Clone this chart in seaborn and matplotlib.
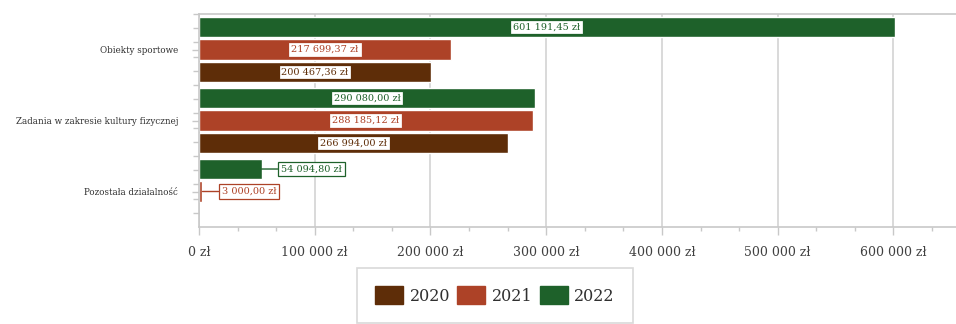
import numpy as np
import pandas as pd
import matplotlib
matplotlib.use("Agg")
import matplotlib.pyplot as plt
import seaborn as sns
from matplotlib.patches import Patch
from matplotlib.ticker import MultipleLocator, FuncFormatter

categories = ["Obiekty sportowe", "Zadania w zakresie kultury fizycznej", "Pozostała działalność"]
years = ["2020", "2021", "2022"]
values_2020 = [200467.36, 266994.00, np.nan]
values_2021 = [217699.37, 288185.12, 3000.00]
values_2022 = [601191.45, 290080.00, 54094.80]
colors = {"2020": "#5E2D08", "2021": "#AD4227", "2022": "#1E612A"}

rows = []
for yr, vals in zip(years, [values_2020, values_2021, values_2022]):
    for c, v in zip(categories, vals):
        rows.append({"Kategoria": c, "Rok": yr, "Kwota": v})
df = pd.DataFrame(rows)

sns.set_theme(style="white")
plt.rcParams["font.family"] = ["DejaVu Serif"]

fig = plt.figure(figsize=(9.56, 3.24), dpi=100)
ax = fig.add_axes([199/956, 1 - 227/324, 1 - 199/956, (227 - 14)/324])

hue_order = ["2022", "2021", "2020"]
sns.barplot(data=df, y="Kategoria", x="Kwota", hue="Rok", hue_order=hue_order,
            palette=colors, orient="h", width=0.95, gap=0.08, order=categories,
            ax=ax, legend=False, errorbar=None, saturation=1)

ax.set_xlim(0, 654000)
ax.set_ylim(2.5, -0.5)
ax.set_xlabel("")
ax.set_ylabel("")

def fmt_axis(v, pos):
    return f"{int(round(v)):,}".replace(",", " ") + " zł"

def fmt_val(v):
    s = f"{v:,.2f}"
    s = s.replace(",", " ").replace(".", ",")
    return s + " zł"

ax.xaxis.set_major_locator(MultipleLocator(100000))
ax.xaxis.set_minor_locator(MultipleLocator(100000/3))
ax.xaxis.set_major_formatter(FuncFormatter(fmt_axis))
ax.set_yticks(np.arange(-0.5, 2.4, 0.2), minor=True)

ax.grid(axis="x", color="#D9D9D9", linewidth=1.4)
ax.grid(axis="y", visible=False)
ax.set_axisbelow(True)
for side in ["left", "bottom", "top"]:
    ax.spines[side].set_color("#C8C8C8")
    ax.spines[side].set_linewidth(1.2)
ax.spines["right"].set_visible(False)

ax.tick_params(axis="x", which="major", length=6, width=1, color="#C8C8C8",
               pad=8, labelsize=9, labelcolor="#404040", bottom=True)
ax.tick_params(axis="x", which="minor", length=3, width=1, color="#C8C8C8", bottom=True)
ax.tick_params(axis="y", which="major", length=5, width=1, color="#C8C8C8",
               pad=10, labelsize=6.3, labelcolor="#303030", left=True)
ax.tick_params(axis="y", which="minor", length=4, width=1, color="#C8C8C8", left=True)

# value labels
for container, yr in zip(ax.containers, hue_order):
    col = colors[yr]
    for bar in container:
        w = bar.get_width()
        if not np.isfinite(w) or w <= 0:
            continue
        yc = bar.get_y() + bar.get_height() / 2
        box = dict(boxstyle="square,pad=0.3", fc="white", ec=col, lw=0.9)
        if w >= 100000:
            ax.text(w / 2, yc, fmt_val(w), ha="center", va="center", fontsize=7,
                    color=col, bbox=box, zorder=5)
        else:
            ax.annotate(fmt_val(w), xy=(w, yc), xytext=(14, 0), textcoords="offset points",
                        ha="left", va="center", fontsize=7, color=col, bbox=box,
                        arrowprops=dict(arrowstyle="-", color=col, lw=1, shrinkA=0, shrinkB=0),
                        zorder=5)

handles = [Patch(facecolor=colors[y], edgecolor=colors[y], label=y) for y in years]
leg = fig.legend(handles=handles, loc="upper left", bbox_to_anchor=(357/956, 1 - 268/324),
                 ncol=3, fontsize=11.5, frameon=True, fancybox=False, borderpad=1.15,
                 handlelength=1.75, handleheight=1.35, handletextpad=0.4, columnspacing=0.45,
                 borderaxespad=0)
leg.get_frame().set_edgecolor("#D0D0D0")
leg.get_frame().set_linewidth(1.2)
for t in leg.get_texts():
    t.set_color("#303030")

fig.savefig("out.png", dpi=100)
